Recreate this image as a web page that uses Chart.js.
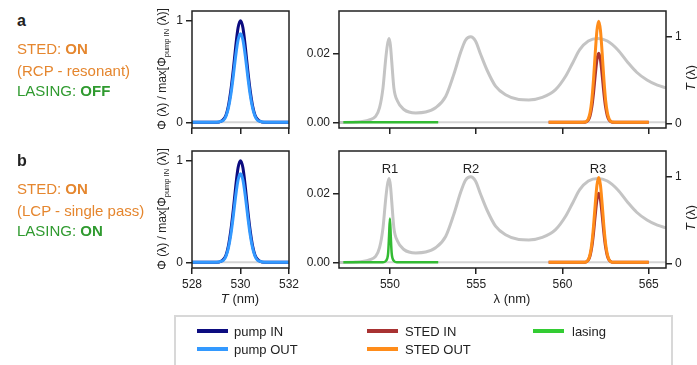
<!DOCTYPE html>
<html lang="en">
<head>
<meta charset="UTF-8">
<script src="https://cdn.jsdelivr.net/npm/chart.js"></script>
<title>STED / lasing spectra</title>
<style>
  body {
    margin: 0;
    width: 697px;
    height: 365px;
    position: relative;
    overflow: hidden;
    background: #fff;
    font-family: "Liberation Sans", Arial, sans-serif;
    color: #222;
  }
  canvas { position: absolute; }
  .t { position: absolute; white-space: nowrap; line-height: 1; }
  .c { transform: translate(-50%, -50%); }
  .rot { transform: translate(-50%, -50%) rotate(-90deg); }
  .orange { color: #e5862e; }
  .green { color: #2f9a2f; }
  .side { font-size: 15px; }
  .lbl { font-size: 12px; }
  .legend {
    position: absolute;
    left: 174px; top: 315px;
    width: 495px; height: 60px;
    border: 2px solid #d8d8d8;
  }
  .key { position: absolute; width: 31px; height: 4px; }
  .ktxt { position: absolute; font-size: 13px; transform: translateY(-50%); }
</style>
</head>
<body>

<canvas id="aLeft"></canvas>
<canvas id="aRight"></canvas>
<canvas id="bLeft"></canvas>
<canvas id="bRight"></canvas>

<!-- row labels -->
<div class="t" style="left:17px;top:13px;font-size:16px;font-weight:bold;">a</div>
<div class="t side orange" style="left:17px;top:41px;">STED: <b>ON</b></div>
<div class="t side orange" style="left:17px;top:63px;">(RCP - resonant)</div>
<div class="t side green" style="left:17px;top:83px;">LASING: <b>OFF</b></div>

<div class="t" style="left:17px;top:153px;font-size:16px;font-weight:bold;">b</div>
<div class="t side orange" style="left:17px;top:181px;">STED: <b>ON</b></div>
<div class="t side orange" style="left:17px;top:203px;">(LCP - single pass)</div>
<div class="t side green" style="left:17px;top:223px;">LASING: <b>ON</b></div>

<!-- axis titles -->
<div class="t lbl rot" style="left:163px;top:69px;">Φ (λ) / max[Φ<sub style="font-size:7.5px">pump IN</sub> (λ)]</div>
<div class="t lbl rot" style="left:163px;top:209px;">Φ (λ) / max[Φ<sub style="font-size:7.5px">pump IN</sub> (λ)]</div>
<div class="t lbl rot" style="left:691px;top:78px;font-size:12.5px;"><i>T</i> (λ)</div>
<div class="t lbl rot" style="left:691px;top:218px;font-size:12.5px;"><i>T</i> (λ)</div>
<div class="t lbl c" style="left:240px;top:298px;font-size:13px;"><i>T</i> (nm)</div>
<div class="t lbl c" style="left:512px;top:298px;font-size:13px;">λ (nm)</div>

<!-- resonance labels -->
<div class="t c" style="left:390px;top:168px;font-size:13px;">R1</div>
<div class="t c" style="left:471px;top:168px;font-size:13px;">R2</div>
<div class="t c" style="left:598px;top:168px;font-size:13px;">R3</div>

<!-- legend -->
<div class="legend"></div>
<div class="key" style="left:197px;top:329px;background:#0c0c80;"></div>
<div class="ktxt" style="left:234px;top:331px;">pump IN</div>
<div class="key" style="left:197px;top:347px;background:#3399ff;"></div>
<div class="ktxt" style="left:234px;top:349px;">pump OUT</div>
<div class="key" style="left:367px;top:329px;background:#a83232;"></div>
<div class="ktxt" style="left:405px;top:331px;">STED IN</div>
<div class="key" style="left:367px;top:347px;background:#ff8c1a;"></div>
<div class="ktxt" style="left:405px;top:349px;">STED OUT</div>
<div class="key" style="left:533px;top:329px;background:#33cc33;"></div>
<div class="ktxt" style="left:572px;top:331px;">lasing</div>

<script>
// pump spectra (left panels), wavelength in nm
const pumpX   = [528, 529, 529.2, 529.3, 529.4, 529.5, 529.6, 529.7, 529.8, 529.9, 530, 530.1, 530.2, 530.3, 530.4, 530.5, 530.6, 530.7, 530.8, 531, 532];
const pumpIn  = [0, 0, 0.01, 0.03, 0.07, 0.16, 0.31, 0.51, 0.74, 0.93, 1.0, 0.93, 0.74, 0.51, 0.31, 0.16, 0.07, 0.03, 0.01, 0, 0];
const pumpOut = [0, 0, 0.01, 0.02, 0.06, 0.14, 0.27, 0.45, 0.65, 0.81, 0.87, 0.81, 0.65, 0.45, 0.27, 0.14, 0.06, 0.02, 0.01, 0, 0];

// STED spectra (right panels)
const stedX    = [559.2, 561.0, 561.3, 561.4, 561.5, 561.6, 561.7, 561.8, 561.9, 562.0, 562.1, 562.2, 562.3, 562.4, 562.5, 562.6, 562.7, 562.8, 562.9, 563.2, 565.0];
const stedIn   = [0, 0, 0, 0.0002, 0.0007, 0.0019, 0.0044, 0.0085, 0.0137, 0.0182, 0.0200, 0.0182, 0.0137, 0.0085, 0.0044, 0.0019, 0.0007, 0.0002, 0, 0, 0];
const stedOutA = [0, 0, 0.0001, 0.0003, 0.0010, 0.0028, 0.0064, 0.0125, 0.0201, 0.0267, 0.0293, 0.0267, 0.0201, 0.0125, 0.0064, 0.0028, 0.0010, 0.0003, 0.0001, 0, 0];
const stedOutB = [0, 0, 0, 0.0002, 0.0008, 0.0023, 0.0054, 0.0105, 0.0169, 0.0224, 0.0246, 0.0224, 0.0169, 0.0105, 0.0054, 0.0023, 0.0008, 0.0002, 0, 0, 0];

// lasing
const lasingX = [547.3, 549.6, 549.75, 549.85, 549.9, 549.95, 550.0, 550.05, 550.1, 550.15, 550.25, 550.4, 552.8];
const lasingA = [0, 0, 0, 0, 0, 0, 0, 0, 0, 0, 0, 0, 0];
const lasingB = [0, 0, 0.0003, 0.0012, 0.0028, 0.0075, 0.0127, 0.0075, 0.0028, 0.0012, 0.0003, 0, 0];

// cavity transmission T(λ)
const tX = [547.05, 548.0, 548.8, 549.17, 549.4, 549.6, 549.75, 549.85, 549.95, 550.03, 550.1, 550.23, 550.43, 550.81, 551.5, 552.07, 552.65, 553.23, 553.71, 554.1, 554.38, 554.68, 554.96, 555.25, 555.64, 556.12, 556.7, 557.47, 558.05, 558.83, 559.6, 560.2, 560.6, 561.0, 561.5, 562.05, 562.6, 563.2, 563.8, 564.3, 564.9, 565.5, 566.0];
const tY = [0.01, 0.015, 0.04, 0.08, 0.18, 0.41, 0.73, 0.90, 0.98, 0.90, 0.73, 0.41, 0.26, 0.16, 0.12, 0.13, 0.18, 0.31, 0.57, 0.82, 0.96, 1.0, 0.95, 0.80, 0.61, 0.43, 0.33, 0.275, 0.27, 0.30, 0.39, 0.55, 0.70, 0.85, 0.95, 0.98, 0.95, 0.85, 0.70, 0.59, 0.50, 0.44, 0.41];

// ticks
const leftXTicks  = [528, 530, 532];
const rightXTicks = [550, 555, 560, 565];
const leftYTicks  = [0, 1];
const phiYTicks   = [0, 0.02];
const tYTicks     = [0, 1];

const FONT = '"Liberation Sans", Arial, sans-serif';

function pts(xs, ys) {
    return xs.map((x, i) => ({ x: x, y: ys[i] }));
}

// box around the plot area
const frame = {
    id: 'frame',
    afterDatasetsDraw(chart) {
        const a = chart.chartArea;
        const c = chart.ctx;
        c.save();
        c.strokeStyle = '#222';
        c.lineWidth = 1.5;
        c.strokeRect(a.left, a.top, a.right - a.left, a.bottom - a.top);
        c.restore();
    }
};

function axis(min, max, vals, pos, size, fmt) {
    const horiz = pos === 'bottom';
    return {
        type: 'linear',
        position: pos,
        min: min,
        max: max,
        border: { display: false },
        grid: { drawOnChartArea: false, drawTicks: true, tickLength: 6, color: '#222', lineWidth: 1.5 },
        ticks: {
            padding: 3,
            color: '#222',
            autoSkip: false,
            maxRotation: 0,
            font: { family: FONT, size: 12 },
            callback: v => fmt ? fmt(v) : ''
        },
        afterBuildTicks: s => { s.ticks = vals.map(v => ({ value: v })); },
        afterFit: s => {
            if (horiz) { s.height = size; s.paddingLeft = 0; s.paddingRight = 0; }
            else { s.width = size; s.paddingTop = 0; s.paddingBottom = 0; }
        }
    };
}

function line(data, color, width, axisId) {
    return {
        data: data,
        borderColor: color,
        borderWidth: width,
        fill: false,
        pointRadius: 0,
        cubicInterpolationMode: 'monotone',
        yAxisID: axisId || 'y'
    };
}

// place a canvas so that the plot area lands on the given page rect
function panel(id, x0, y0, w, h, area, datasets, scales) {
    const cv = document.getElementById(id);
    cv.width = w; cv.height = h;
    cv.style.left = x0 + 'px'; cv.style.top = y0 + 'px';
    cv.style.width = w + 'px'; cv.style.height = h + 'px';
    new Chart(cv, {
        type: 'line',
        data: { datasets: datasets },
        options: {
            responsive: false,
            animation: false,
            devicePixelRatio: 1,
            layout: { padding: { top: area.t - y0, right: area.rightPad, left: 0, bottom: 0 } },
            plugins: { legend: { display: false }, tooltip: { enabled: false } },
            scales: scales
        },
        plugins: [frame]
    });
}

const fmtInt = v => String(v);
const fmt2 = v => v.toFixed(2);

function leftPanel(id, y0, h, top, bottom, labels) {
    panel(id, 140, y0, 165, h, { t: top, rightPad: 305 - 289 }, [
        line(pts(pumpX, pumpOut), '#3399ff', 3),
        line(pts(pumpX, pumpIn), '#0c0c80', 3),
        line(pts([528, 532], [0, 0]), '#d4d4d4', 2)
    ], {
        x: axis(528, 532, leftXTicks, 'bottom', y0 + h - bottom, labels ? fmtInt : null),
        y: axis(-0.056, 1.095, leftYTicks, 'left', 192 - 140, fmtInt)
    });
}

function rightPanel(id, y0, h, top, bottom, labels, lasing, stedOut) {
    panel(id, 298, y0, 399, h, { t: top, rightPad: 0 }, [
        line(pts(stedX, stedOut), '#ff8c1a', 3),
        line(pts(stedX, stedIn), '#a83232', 3),
        line(pts(lasingX, lasing), '#33bb33', 2.5),
        line(pts(tX, tY), '#c4c4c4', 3, 'y2'),
        line(pts([547.05, 566], [0, 0]), '#d4d4d4', 2)
    ], {
        x: axis(547.05, 566, rightXTicks, 'bottom', y0 + h - bottom, labels ? fmtInt : null),
        y: axis(-0.00165, 0.03226, phiYTicks, 'left', 339 - 298, fmt2),
        y2: axis(-0.054, 1.297, tYTicks, 'right', 697 - 666, fmtInt)
    });
}

leftPanel('aLeft', 0, 140, 11, 128, false);
leftPanel('bLeft', 140, 160, 151, 268, true);
rightPanel('aRight', 0, 140, 11, 128, false, lasingA, stedOutA);
rightPanel('bRight', 140, 160, 151, 268, true, lasingB, stedOutB);
</script>
</body>
</html>
